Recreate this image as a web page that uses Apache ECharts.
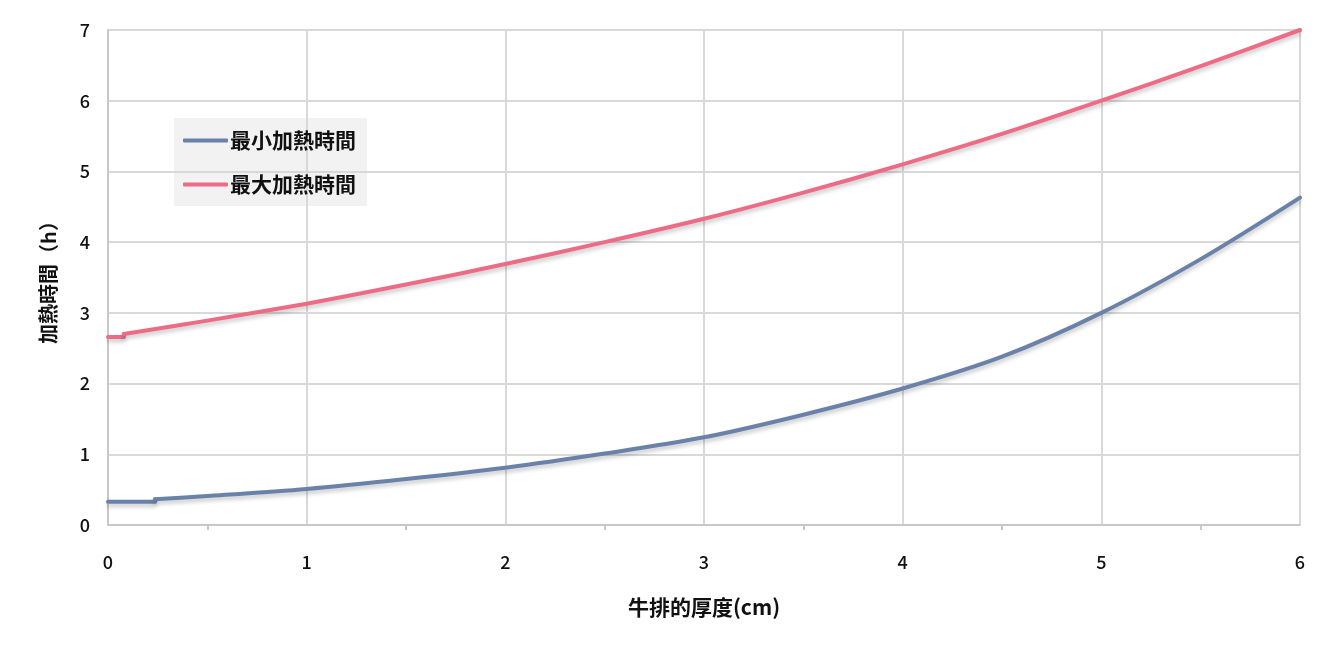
<!DOCTYPE html>
<html>
<head>
<meta charset="utf-8">
<script src="https://cdn.jsdelivr.net/npm/echarts@6/dist/echarts.min.js"></script>
<style>html,body{margin:0;padding:0;background:#fff;}#c{width:1330px;height:655px;}</style>
</head>
<body>
<div id="c"></div>
<script>
const seriesNames = ['最小加熱時間', '最大加熱時間'];
const xAxisName = '牛排的厚度(cm)';
const yAxisName = '加熱時間（h）';
// step-in segment at the start of each curve, then the smooth curve
const minStepX = [0, 0.237, 0.237];
const minStepY = [0.33, 0.33, 0.365];
const minX = [0.237, 0.5, 1, 1.5, 2, 2.5, 3, 3.5, 4, 4.5, 5, 5.5, 6];
const minY = [0.365, 0.41, 0.51, 0.65, 0.81, 1.01, 1.24, 1.56, 1.93, 2.38, 3.0, 3.76, 4.63];
const maxStepX = [0, 0.08, 0.08];
const maxStepY = [2.66, 2.66, 2.70];
const maxX = [0.08, 0.5, 1, 1.5, 2, 2.5, 3, 3.5, 4, 4.5, 5, 5.5, 6];
const maxY = [2.70, 2.89, 3.13, 3.40, 3.69, 4.00, 4.33, 4.70, 5.10, 5.53, 6.00, 6.49, 7.00];
const colors = ['#6a82a9', '#ee6b86'];

const zip = (xs, ys) => xs.map((x, i) => [x, ys[i]]);
const font = '"Noto Sans CJK TC", "Noto Sans", sans-serif';

const chart = echarts.init(document.getElementById('c'), null, {renderer: 'canvas'});
const mkSeries = (name, data, color, smooth) => ({
  name, type: 'line', data, showSymbol: false, symbol: 'none',
  smooth: smooth,
  lineStyle: {color, width: 4, join: 'round', cap: 'round', shadowColor: 'rgba(0,0,0,0.22)', shadowBlur: 4, shadowOffsetY: 3},
  itemStyle: {color},
  emphasis: {disabled: true}
});
chart.setOption({
  animation: false,
  color: colors,
  grid: {left: 108, right: 30, top: 30, bottom: 130, containLabel: false},
  legend: {
    orient: 'vertical', left: 174, top: 118,
    padding: [12, 11, 11, 9],
    backgroundColor: 'rgba(215,215,215,0.33)',
    itemWidth: 45, itemHeight: 4, itemGap: 23,
    icon: 'roundRect',
    textStyle: {fontFamily: font, fontSize: 21, fontWeight: 'bold', color: '#111', padding: [0, 0, 0, -3]},
    data: seriesNames
  },
  xAxis: {
    type: 'value', min: 0, max: 6, interval: 1,
    name: xAxisName, nameLocation: 'middle', nameGap: 72,
    nameTextStyle: {fontFamily: font, fontSize: 21, fontWeight: 'bold', color: '#111'},
    axisLine: {show: true, lineStyle: {color: '#c8c8c8', width: 2}},
    axisTick: {show: false},
    minorTick: {show: true, splitNumber: 2, length: 5, lineStyle: {color: '#c8c8c8', width: 2}},
    splitLine: {show: true, lineStyle: {color: '#d9d9d9', width: 2}},
    axisLabel: {fontFamily: font, fontSize: 18, fontWeight: 500, color: '#111', margin: 28}
  },
  yAxis: {
    type: 'value', min: 0, max: 7, interval: 1,
    name: yAxisName, nameLocation: 'middle', nameGap: 50, nameRotate: 90,
    nameTextStyle: {fontFamily: font, fontSize: 20, fontWeight: 'bold', color: '#111'},
    axisLine: {show: true, lineStyle: {color: '#c8c8c8', width: 2}},
    axisTick: {show: false},
    splitLine: {show: true, lineStyle: {color: '#d9d9d9', width: 2}},
    axisLabel: {fontFamily: font, fontSize: 18, fontWeight: 500, color: '#111', margin: 18}
  },
  series: [
    mkSeries(seriesNames[0], zip(minStepX, minStepY), colors[0], false),
    mkSeries(seriesNames[0], zip(minX, minY), colors[0], 0.3),
    mkSeries(seriesNames[1], zip(maxStepX, maxStepY), colors[1], false),
    mkSeries(seriesNames[1], zip(maxX, maxY), colors[1], 0.3)
  ]
});
</script>
</body>
</html>
